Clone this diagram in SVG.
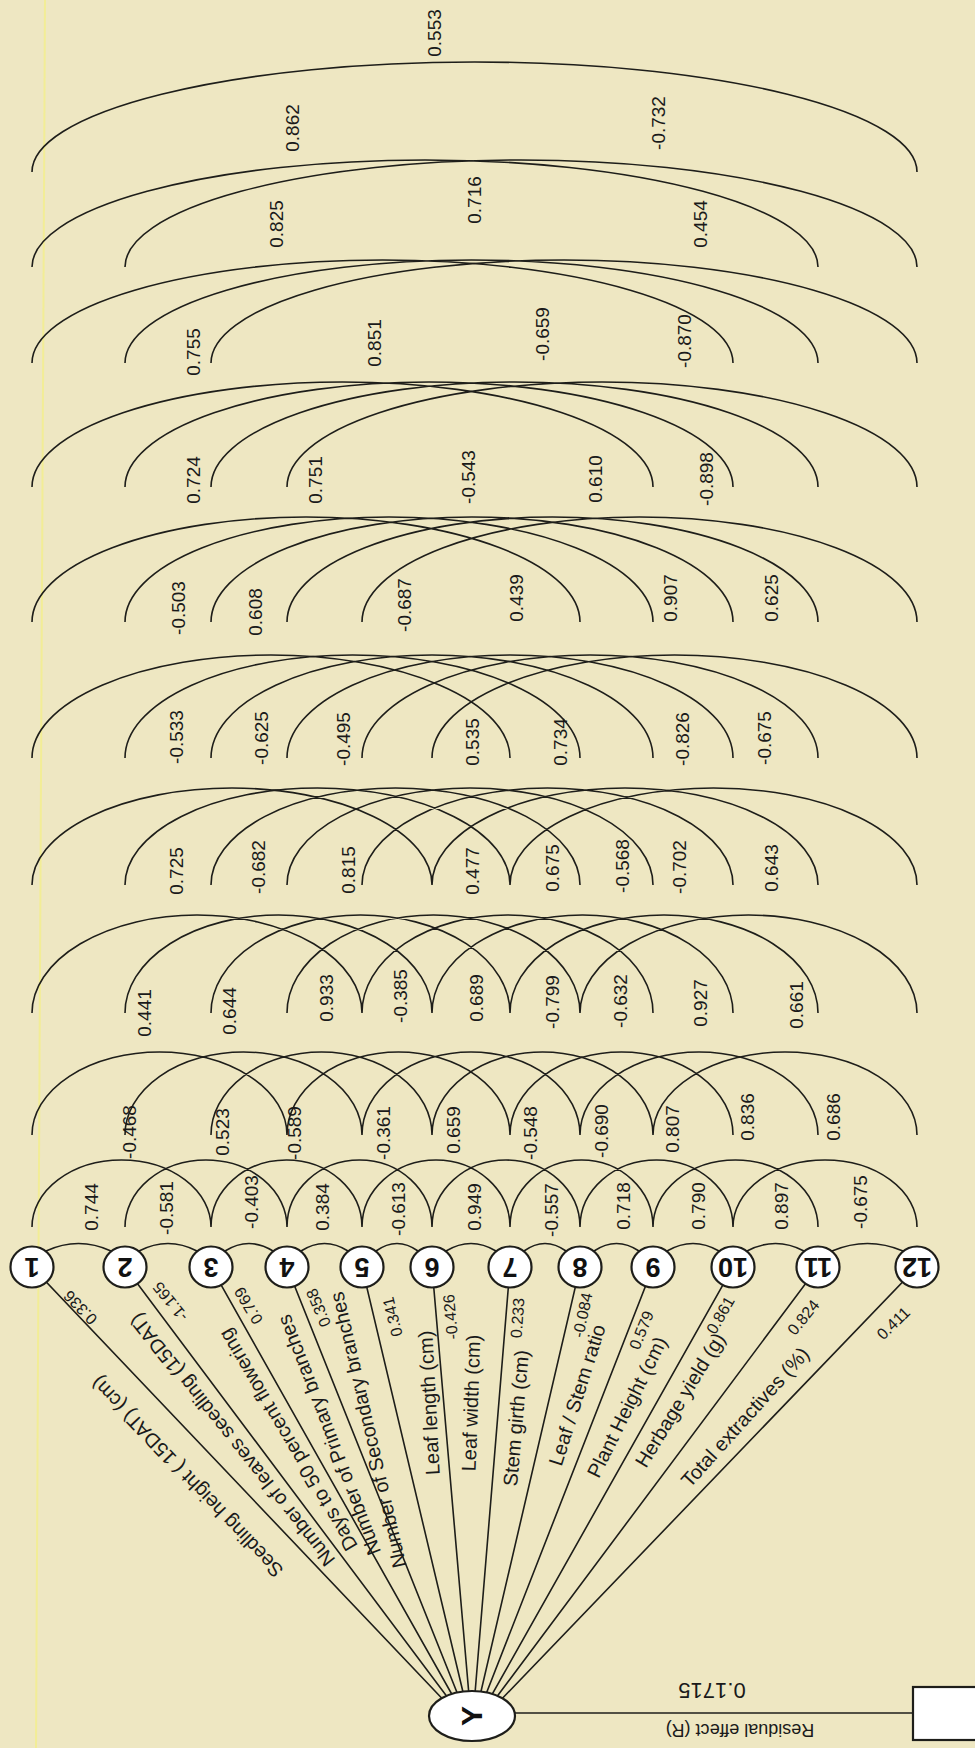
<svg xmlns="http://www.w3.org/2000/svg" width="975" height="1748" viewBox="0 0 975 1748">
<style>
.bg{fill:#eee7c2}
.c{fill:none;stroke:#1e1e1a;stroke-width:1.6}
.n{fill:#ffffff;stroke:#1e1e1a;stroke-width:2.2}
.num{font-family:"Liberation Sans",Arial,sans-serif;font-size:27px;font-weight:bold;fill:#111;text-anchor:middle}
.al{font-family:"Liberation Sans",Arial,sans-serif;font-size:19px;fill:#1a1a1a;text-anchor:middle}
.ll{font-family:"Liberation Sans",Arial,sans-serif;font-size:20px;fill:#1a1a1a;text-anchor:middle}
.vl{font-family:"Liberation Sans",Arial,sans-serif;font-size:16px;fill:#1a1a1a;text-anchor:middle}
</style>
<rect class="bg" x="0" y="0" width="975" height="1748"/>
<line x1="45" y1="0" x2="36" y2="1748" stroke="#f4ef8c" stroke-width="2" opacity="0.8"/>

<g id="connectors">
<g id="fan">
<path class="c" d="M32 1267L472 1730M125 1267L472 1730M211 1267L472 1730M287 1267L472 1730M362 1267L472 1730M432 1267L472 1730M510 1267L472 1730M580 1267L472 1730M653 1267L472 1730M733 1267L472 1730M818 1267L472 1730M917 1267L472 1730"/>
<path class="c" d="M515 1713L913 1713"/>
</g>
<g id="level1">
<path class="c" d="M46 1251Q78.5 1236 111 1251M139 1251Q168 1236 197 1251M225 1251Q249 1236 273 1251M301 1251Q324.5 1236 348 1251M376 1251Q397 1236 418 1251M446 1251Q471 1236 496 1251M524 1251Q545 1236 566 1251M594 1251Q616.5 1236 639 1251M667 1251Q693 1236 719 1251M747 1251Q775.5 1236 804 1251M832 1251Q867.5 1236 903 1251"/>
</g>
<g id="level2">
<path class="c" d="M32 1227A89.5 67 0 0 1 211 1227M125 1227A81 67 0 0 1 287 1227M211 1227A75.5 67 0 0 1 362 1227M287 1227A72.5 67 0 0 1 432 1227M362 1227A74 67 0 0 1 510 1227M432 1227A74 67 0 0 1 580 1227M510 1227A71.5 67 0 0 1 653 1227M580 1227A76.5 67 0 0 1 733 1227M653 1227A82.5 67 0 0 1 818 1227M733 1227A92 67 0 0 1 917 1227"/>
</g>
<g id="level3">
<path class="c" d="M32 1135A127.5 83 0 0 1 287 1135M125 1135A118.5 83 0 0 1 362 1135M211 1135A110.5 83 0 0 1 432 1135M287 1135A111.5 83 0 0 1 510 1135M362 1135A109 83 0 0 1 580 1135M432 1135A110.5 83 0 0 1 653 1135M510 1135A111.5 83 0 0 1 733 1135M580 1135A119 83 0 0 1 818 1135M653 1135A132 83 0 0 1 917 1135"/>
</g>
<g id="level4">
<path class="c" d="M32 1013A165 98 0 0 1 362 1013M125 1013A153.5 98 0 0 1 432 1013M211 1013A149.5 98 0 0 1 510 1013M287 1013A146.5 98 0 0 1 580 1013M362 1013A145.5 98 0 0 1 653 1013M432 1013A150.5 98 0 0 1 733 1013M510 1013A154 98 0 0 1 818 1013M580 1013A168.5 98 0 0 1 917 1013"/>
</g>
<g id="level5">
<path class="c" d="M32 885A200 97 0 0 1 432 885M125 885A192.5 97 0 0 1 510 885M211 885A184.5 97 0 0 1 580 885M287 885A183 97 0 0 1 653 885M362 885A185.5 97 0 0 1 733 885M432 885A193 97 0 0 1 818 885M510 885A203.5 97 0 0 1 917 885"/>
</g>
<g id="level6">
<path class="c" d="M32 758A239 103 0 0 1 510 758M125 758A227.5 103 0 0 1 580 758M211 758A221 103 0 0 1 653 758M287 758A223 103 0 0 1 733 758M362 758A228 103 0 0 1 818 758M432 758A242.5 103 0 0 1 917 758"/>
</g>
<g id="level7">
<path class="c" d="M32 622A274 105 0 0 1 580 622M125 622A264 105 0 0 1 653 622M211 622A261 105 0 0 1 733 622M287 622A265.5 105 0 0 1 818 622M362 622A277.5 105 0 0 1 917 622"/>
</g>
<g id="level8">
<path class="c" d="M32 487A310.5 105 0 0 1 653 487M125 487A304 105 0 0 1 733 487M211 487A303.5 105 0 0 1 818 487M287 487A315 105 0 0 1 917 487"/>
</g>
<g id="level9">
<path class="c" d="M32 363A350.5 103 0 0 1 733 363M125 363A346.5 103 0 0 1 818 363M211 363A353 103 0 0 1 917 363"/>
</g>
<g id="level10">
<path class="c" d="M32 267A393 107 0 0 1 818 267M125 267A396 107 0 0 1 917 267"/>
</g>
<g id="level11">
<path class="c" d="M32 172A442.5 110 0 0 1 917 172"/>
</g>
</g>

<g id="correlation-labels">
<g class="al">
<text transform="translate(91 1207) rotate(-90)" y="7">0.744</text>
<text transform="translate(166 1208) rotate(-90)" y="7">-0.581</text>
<text transform="translate(251 1202) rotate(-90)" y="7">-0.403</text>
<text transform="translate(322 1207) rotate(-90)" y="7">0.384</text>
<text transform="translate(398 1209) rotate(-90)" y="7">-0.613</text>
<text transform="translate(474 1207) rotate(-90)" y="7">0.949</text>
<text transform="translate(551 1210) rotate(-90)" y="7">-0.557</text>
<text transform="translate(623 1206) rotate(-90)" y="7">0.718</text>
<text transform="translate(698 1206) rotate(-90)" y="7">0.790</text>
<text transform="translate(781 1206) rotate(-90)" y="7">0.897</text>
<text transform="translate(860 1202) rotate(-90)" y="7">-0.675</text>

<text transform="translate(129 1132) rotate(-90)" y="7">-0.468</text>
<text transform="translate(222 1132) rotate(-90)" y="7">0.523</text>
<text transform="translate(294 1133) rotate(-90)" y="7">-0.589</text>
<text transform="translate(383 1133) rotate(-90)" y="7">-0.361</text>
<text transform="translate(453 1130) rotate(-90)" y="7">0.659</text>
<text transform="translate(530 1133) rotate(-90)" y="7">-0.548</text>
<text transform="translate(601 1131) rotate(-90)" y="7">-0.690</text>
<text transform="translate(672 1129) rotate(-90)" y="7">0.807</text>
<text transform="translate(747 1117) rotate(-90)" y="7">0.836</text>
<text transform="translate(833 1117) rotate(-90)" y="7">0.686</text>

<text transform="translate(144 1013) rotate(-90)" y="7">0.441</text>
<text transform="translate(229 1011) rotate(-90)" y="7">0.644</text>
<text transform="translate(326 998) rotate(-90)" y="7">0.933</text>
<text transform="translate(400 996) rotate(-90)" y="7">-0.385</text>
<text transform="translate(476 998) rotate(-90)" y="7">0.689</text>
<text transform="translate(552 1002) rotate(-90)" y="7">-0.799</text>
<text transform="translate(620 1001) rotate(-90)" y="7">-0.632</text>
<text transform="translate(700 1003) rotate(-90)" y="7">0.927</text>
<text transform="translate(796 1005) rotate(-90)" y="7">0.661</text>

<text transform="translate(176 871) rotate(-90)" y="7">0.725</text>
<text transform="translate(258 867) rotate(-90)" y="7">-0.682</text>
<text transform="translate(348 870) rotate(-90)" y="7">0.815</text>
<text transform="translate(472 871) rotate(-90)" y="7">0.477</text>
<text transform="translate(552 868) rotate(-90)" y="7">0.675</text>
<text transform="translate(622 866) rotate(-90)" y="7">-0.568</text>
<text transform="translate(679 867) rotate(-90)" y="7">-0.702</text>
<text transform="translate(771 868) rotate(-90)" y="7">0.643</text>

<text transform="translate(176 737) rotate(-90)" y="7">-0.533</text>
<text transform="translate(261 738) rotate(-90)" y="7">-0.625</text>
<text transform="translate(343 739) rotate(-90)" y="7">-0.495</text>
<text transform="translate(472 742) rotate(-90)" y="7">0.535</text>
<text transform="translate(560 742) rotate(-90)" y="7">0.734</text>
<text transform="translate(682 739) rotate(-90)" y="7">-0.826</text>
<text transform="translate(764 738) rotate(-90)" y="7">-0.675</text>

<text transform="translate(178 608) rotate(-90)" y="7">-0.503</text>
<text transform="translate(255 612) rotate(-90)" y="7">0.608</text>
<text transform="translate(404 605) rotate(-90)" y="7">-0.687</text>
<text transform="translate(516 598) rotate(-90)" y="7">0.439</text>
<text transform="translate(670 598) rotate(-90)" y="7">0.907</text>
<text transform="translate(771 598) rotate(-90)" y="7">0.625</text>

<text transform="translate(193 480) rotate(-90)" y="7">0.724</text>
<text transform="translate(315 480) rotate(-90)" y="7">0.751</text>
<text transform="translate(468 477) rotate(-90)" y="7">-0.543</text>
<text transform="translate(595 479) rotate(-90)" y="7">0.610</text>
<text transform="translate(706 479) rotate(-90)" y="7">-0.898</text>

<text transform="translate(193 352) rotate(-90)" y="7">0.755</text>
<text transform="translate(374 343) rotate(-90)" y="7">0.851</text>
<text transform="translate(542 334) rotate(-90)" y="7">-0.659</text>
<text transform="translate(684 341) rotate(-90)" y="7">-0.870</text>

<text transform="translate(276 224) rotate(-90)" y="7">0.825</text>
<text transform="translate(474 200) rotate(-90)" y="7">0.716</text>
<text transform="translate(700 224) rotate(-90)" y="7">0.454</text>

<text transform="translate(292 128) rotate(-90)" y="7">0.862</text>
<text transform="translate(658 123) rotate(-90)" y="7">-0.732</text>

<text transform="translate(434 33) rotate(-90)" y="7">0.553</text>
</g>
</g>

<g id="path-labels">
<g class="ll">
<text transform="translate(187 1477) rotate(-133.5)" y="7">Seedling height ( 15DAT) (cm)</text>
<text transform="translate(232 1440) rotate(-128.5)" y="7">Number of leaves seedling (15DAT)</text>
<text transform="translate(288 1440) rotate(-120.5)" y="7">Days to 50 percent flowering</text>
<text transform="translate(329 1435) rotate(-111)" y="7">Number of Primary branches</text>
<text transform="translate(368 1430) rotate(-103)" y="7">Number of Secondary branches</text>
<text transform="translate(429 1403) rotate(-93)" y="7">Leaf length (cm)</text>
<text transform="translate(471 1403) rotate(-88)" y="7">Leaf width (cm)</text>
<text transform="translate(516 1418) rotate(-85)" y="7">Stem girth (cm)</text>
<text transform="translate(577 1395) rotate(-72.5)" y="7">Leaf / Stem ratio</text>
<text transform="translate(627 1407) rotate(-63.5)" y="7">Plant Height (cm)</text>
<text transform="translate(680 1400) rotate(-58.5)" y="7">Herbage yield (g)</text>
<text transform="translate(745 1417) rotate(-48)" y="7">Total extractives (%)</text>
</g>
<g class="vl">
<text transform="translate(80 1308) rotate(-134)" y="6">0.336</text>
<text transform="translate(170 1302) rotate(-129)" y="6">-1.165</text>
<text transform="translate(248 1306) rotate(-121)" y="6">0.769</text>
<text transform="translate(318 1308) rotate(-113)" y="6">0.358</text>
<text transform="translate(392 1317) rotate(-104)" y="6">0.341</text>
<text transform="translate(450 1317) rotate(-95)" y="6">-0.426</text>
<text transform="translate(517 1318) rotate(-86)" y="6">0.233</text>
<text transform="translate(582 1315) rotate(-78)" y="6">-0.084</text>
<text transform="translate(641 1330) rotate(-68)" y="6">0.579</text>
<text transform="translate(720 1315) rotate(-60)" y="6">0.861</text>
<text transform="translate(803 1317) rotate(-51)" y="6">0.824</text>
<text transform="translate(893 1323) rotate(-44)" y="6">0.411</text>
</g>
<text transform="translate(712 1691) rotate(180)" y="8" style="font-family:'Liberation Sans',Arial,sans-serif;font-size:22px;fill:#1a1a1a;text-anchor:middle">0.1715</text>
<text transform="translate(740 1730) rotate(180)" y="6" style="font-family:'Liberation Sans',Arial,sans-serif;font-size:18px;fill:#1a1a1a;text-anchor:middle">Residual effect (R)</text>
</g>

<g id="node1"><ellipse class="n" cx="32" cy="1267" rx="21.5" ry="20.5"/><text class="num" transform="translate(32 1267) rotate(180)" y="9.5">1</text></g>
<g id="node2"><ellipse class="n" cx="125" cy="1267" rx="21.5" ry="20.5"/><text class="num" transform="translate(125 1267) rotate(180)" y="9.5">2</text></g>
<g id="node3"><ellipse class="n" cx="211" cy="1267" rx="21.5" ry="20.5"/><text class="num" transform="translate(211 1267) rotate(180)" y="9.5">3</text></g>
<g id="node4"><ellipse class="n" cx="287" cy="1267" rx="21.5" ry="20.5"/><text class="num" transform="translate(287 1267) rotate(180)" y="9.5">4</text></g>
<g id="node5"><ellipse class="n" cx="362" cy="1267" rx="21.5" ry="20.5"/><text class="num" transform="translate(362 1267) rotate(180)" y="9.5">5</text></g>
<g id="node6"><ellipse class="n" cx="432" cy="1267" rx="21.5" ry="20.5"/><text class="num" transform="translate(432 1267) rotate(180)" y="9.5">6</text></g>
<g id="node7"><ellipse class="n" cx="510" cy="1267" rx="21.5" ry="20.5"/><text class="num" transform="translate(510 1267) rotate(180)" y="9.5">7</text></g>
<g id="node8"><ellipse class="n" cx="580" cy="1267" rx="21.5" ry="20.5"/><text class="num" transform="translate(580 1267) rotate(180)" y="9.5">8</text></g>
<g id="node9"><ellipse class="n" cx="653" cy="1267" rx="21.5" ry="20.5"/><text class="num" transform="translate(653 1267) rotate(180)" y="9.5">9</text></g>
<g id="node10"><ellipse class="n" cx="733" cy="1267" rx="21.5" ry="20.5"/><text class="num" transform="translate(733 1267) rotate(180)" y="9.5">10</text></g>
<g id="node11"><ellipse class="n" cx="818" cy="1267" rx="21.5" ry="20.5"/><text class="num" transform="translate(818 1267) rotate(180)" y="9.5">11</text></g>
<g id="node12"><ellipse class="n" cx="917" cy="1267" rx="21.5" ry="20.5"/><text class="num" transform="translate(917 1267) rotate(180)" y="9.5">12</text></g>
<g id="nodeY"><ellipse class="n" cx="472" cy="1716" rx="43" ry="25"/><text class="num" transform="translate(472 1716) rotate(-90)" y="10" style="font-size:30px">Y</text></g>
<g id="residual"><rect x="913" y="1687" width="80" height="53" fill="#ffffff" stroke="#1e1e1a" stroke-width="2.2"/></g>
</svg>
